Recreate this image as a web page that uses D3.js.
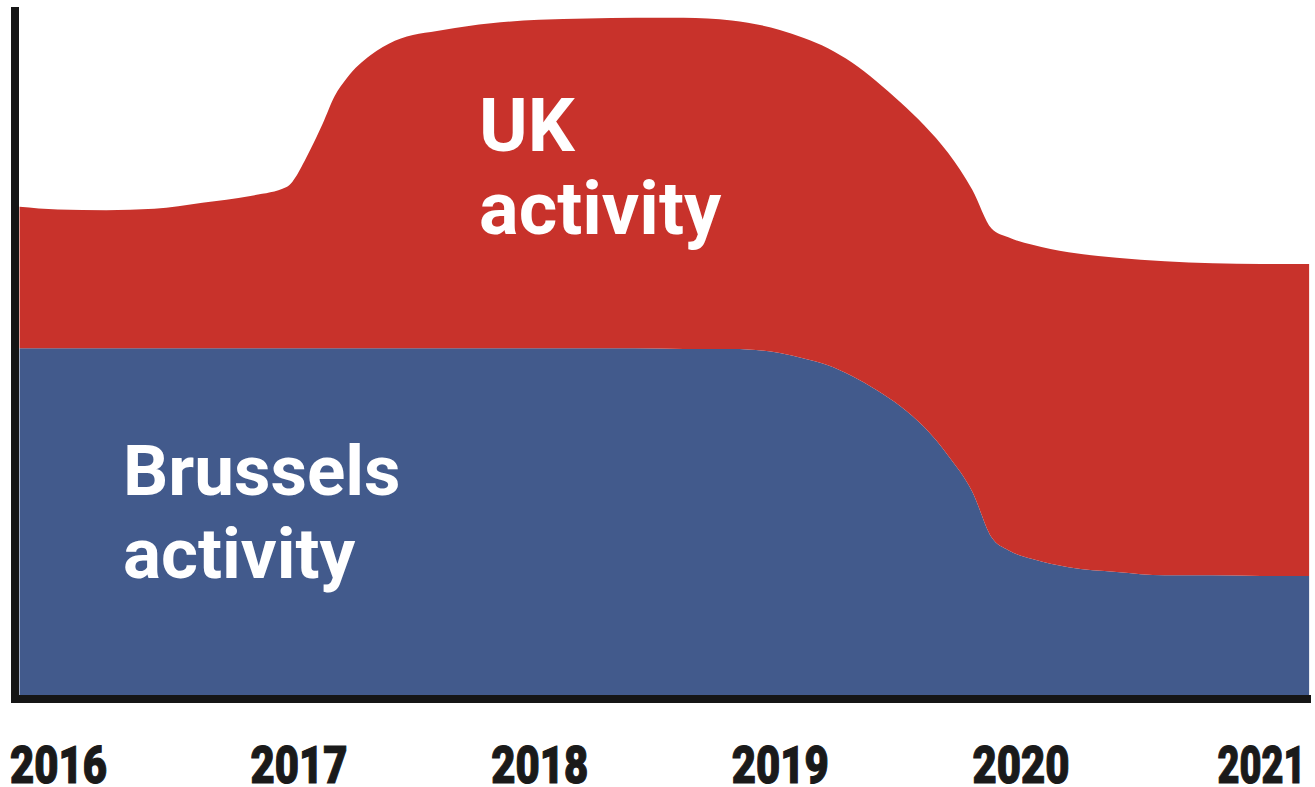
<!DOCTYPE html>
<html lang="en">
	<head>
		<meta charset="utf-8">
		<title>UK vs Brussels activity</title>
		<script type="text/javascript" src="https://d3js.org/d3.v7.min.js"></script>
		<style type="text/css">
		body{
                margin:0;
                background:#ffffff;
                }
		.label{
                font-family:Roboto, "Liberation Sans", sans-serif;
                font-weight:700;
                fill:#ffffff;
                }
		.years text{
                font-family:Roboto, "Liberation Sans", sans-serif;
                font-weight:900;
                font-size:52px;
                fill:#1a1a1a;
                stroke:#1a1a1a;
                stroke-width:1.2;
                }
		</style>
	</head>
	<body>
        <div id="chart"></div>

	<script type="text/javascript">

    // sample points along the curves (fractional years)
    var years = [2015.84, 2016.0, 2016.2, 2016.4, 2016.6, 2016.8, 2016.95, 2017.05, 2017.1, 2017.15,
                 2017.2, 2017.3, 2017.4, 2017.6, 2017.8, 2018.0, 2018.2, 2018.4, 2018.6, 2018.8,
                 2019.0, 2019.1, 2019.2, 2019.3, 2019.4, 2019.5, 2019.6, 2019.7, 2019.8, 2019.88,
                 2019.95, 2020.05, 2020.2, 2020.4, 2020.6, 2020.8, 2021.0, 2021.2]

    // Brussels activity (bottom band)
    var brussels = [51.0, 51.0, 51.0, 51.0, 51.0, 51.0, 51.0, 51.0, 51.0, 51.0,
                    51.0, 51.0, 51.0, 51.0, 51.0, 51.0, 51.0, 51.0, 50.9, 50.9,
                    50.3, 49.5, 48.5, 46.9, 44.9, 42.5, 39.4, 35.2, 29.9, 23.2,
                    21.3, 20.0, 18.8, 18.1, 17.6, 17.6, 17.5, 17.5]

    // UK activity (band stacked on top)
    var uk = [20.8, 20.4, 20.3, 20.5, 21.4, 22.4, 23.7, 29.3, 33.0, 37.1,
              39.7, 43.1, 45.2, 46.8, 47.8, 48.3, 48.5, 48.6, 48.7, 48.3,
              47.5, 47.1, 46.6, 46.1, 45.4, 44.7, 44.4, 44.5, 44.4, 45.4,
              46.0, 46.2, 46.3, 46.2, 46.2, 45.9, 45.9, 45.9]

    var tickYears = [2016, 2017, 2018, 2019, 2020, 2021]

    var keys = ["brussels", "uk"]
    var colors = {brussels: "#425a8c", uk: "#c8322b"}
    var labels = {uk: ["UK", "activity"], brussels: ["Brussels", "activity"]}

    var w = 1315
    var h = 787
    var base = 695

    var rows = years.map(function(t, i){
        return {year: t, brussels: brussels[i], uk: uk[i]}
    })

    var svg = d3.select("#chart")
        .append("svg")
        .attr("width", w)
        .attr("height", h)

    var xScale = d3.scaleLinear()
        .domain([2016, 2021])
        .range([58, 1261])
    var yScale = d3.scaleLinear()
        .domain([0, 100])
        .range([base, 15])

    var stack = d3.stack().keys(keys)
    var series = stack(rows)

    var area = d3.area()
        .x(function(d){ return xScale(d.data.year) })
        .y0(function(d){ return yScale(d[0]) })
        .y1(function(d){ return yScale(d[1]) })
        .curve(d3.curveMonotoneX)

    svg.selectAll("path.band")
        .data(series)
        .enter()
        .append("path")
        .attr("class", "band")
        .attr("d", area)
        .style("fill", function(d){ return colors[d.key] })

    // white text labels inside the bands
    var labelPos = {uk: {year: 2017.75, value: 80, size: 74},
                    brussels: {year: 2016.27, value: 29.4, size: 71}}
    keys.forEach(function(k){
        var p = labelPos[k]
        var t = svg.append("text")
            .attr("class", "label")
            .attr("x", xScale(p.year))
            .attr("y", yScale(p.value))
            .style("font-size", p.size + "px")
        labels[k].forEach(function(line, i){
            t.append("tspan")
                .attr("x", xScale(p.year))
                .attr("dy", i == 0 ? 0 : 83)
                .text(line)
        })
    })

    // axis lines
    svg.append("line")
        .attr("x1", 15).attr("x2", 15)
        .attr("y1", 7).attr("y2", base + 8)
        .style("stroke", "#151515")
        .style("stroke-width", 8)
    svg.append("line")
        .attr("x1", 11).attr("x2", 1311)
        .attr("y1", base + 4).attr("y2", base + 4)
        .style("stroke", "#151515")
        .style("stroke-width", 8)

    var xAxis = d3.axisBottom()
        .scale(xScale)
        .tickValues(tickYears)
        .tickFormat(d3.format("d"))
        .tickSize(0)
        .tickPadding(47)

    var gx = svg.append("g")
        .attr("class", "years")
        .attr("transform", "translate(0," + (base + 4) + ")")
        .call(xAxis)
    gx.select(".domain").remove()
    // squeeze the digits into a condensed look
    gx.selectAll("text")
        .attr("lengthAdjust", "spacingAndGlyphs")
        .attr("textLength", function(d){ return d == 2021 ? 88 : 97 })

	</script>
	</body>
</html>
